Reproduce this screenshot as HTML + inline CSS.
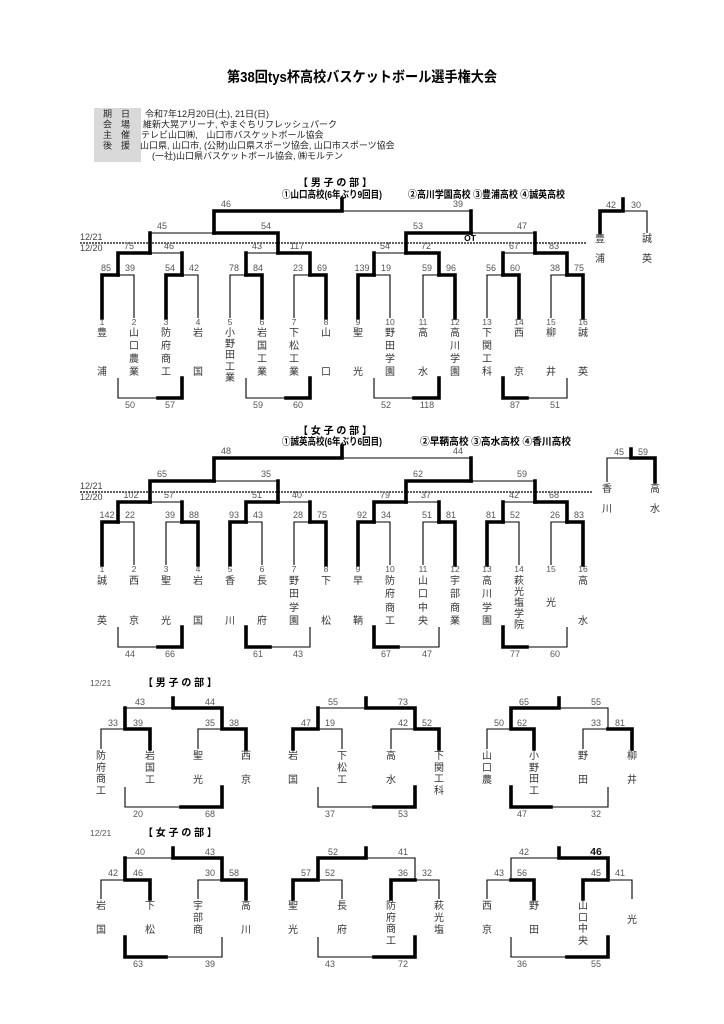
<!DOCTYPE html>
<html><head><meta charset="utf-8"><style>
html,body{margin:0;padding:0;background:#fff;}
svg{display:block;font-family:"Liberation Sans","Noto Sans CJK JP",sans-serif;}
.t{stroke:#000;stroke-width:1.1;fill:none;}
.k{stroke:#000;stroke-width:3.6;fill:none;stroke-linecap:square;}
.s{font-size:9px;fill:#555;text-anchor:middle;}
.n{font-size:10px;fill:#333;text-anchor:middle;}
.m{font-size:8.5px;fill:#555;text-anchor:middle;}
.h{font-size:10px;font-weight:bold;fill:#000;}
.i{font-size:9px;fill:#222;}
</style></head><body>
<svg width="724" height="1024" viewBox="0 0 724 1024" xmlns="http://www.w3.org/2000/svg">
<text x="362" y="82" text-anchor="middle" font-size="14.5" font-weight="bold" textLength="270" lengthAdjust="spacingAndGlyphs">第38回tys杯高校バスケットボール選手権大会</text>
<rect x="94" y="108" width="47" height="54" fill="#d9d9d9"/>
<g class="i">
<text x="103" y="117">期　日</text><text x="145" y="117">令和7年12月20日(土), 21日(日)</text>
<text x="103" y="127.5">会　場</text><text x="143" y="127.5">維新大晃アリーナ, やまぐちリフレッシュパーク</text>
<text x="103" y="138">主　催</text><text x="141" y="138">テレビ山口㈱,　山口市バスケットボール協会</text>
<text x="103" y="148.5">後　援</text><text x="140" y="148.5">山口県, 山口市, (公財)山口県スポーツ協会, 山口市スポーツ協会</text>
<text x="152" y="159">(一社)山口県バスケットボール協会, ㈱モルテン</text>
</g>

<!-- BOYS MAIN -->
<text x="335" y="186" class="h" text-anchor="middle" xml:space="preserve">【 男 子 の 部 】</text>
<text x="282" y="198" class="h" font-size="9" textLength="100" lengthAdjust="spacingAndGlyphs">①山口高校(6年ぶり9回目)</text>
<text x="408" y="198" class="h" font-size="9" textLength="157" lengthAdjust="spacingAndGlyphs">②高川学園高校 ③豊浦高校 ④誠英高校</text>
<text x="80" y="240" font-size="9" fill="#444">12/21</text>
<text x="80" y="251" font-size="9" fill="#444">12/20</text>
<line x1="80" y1="243" x2="586" y2="243" stroke="#000" stroke-width="1.2" stroke-dasharray="2,1"/>
<text x="470" y="241" text-anchor="middle" font-size="8.5" font-weight="bold">OT</text>
<path class="k" d="M102 318V275H118 M166 318V275H182 M262 318V275H246 M326 318V275H310 M358 318V275H374 M455 318V275H439 M519 318V275H503 M583 318V275H567"/>
<path class="t" d="M134 318V275H118 M198 318V275H182 M230 318V275H246 M294 318V275H310 M390 318V275H374 M423 318V275H439 M487 318V275H503 M551 318V275H567"/>
<path class="k" d="M118 275V253H150 M182 275V253 M246 275V253 M310 275V253H278 M374 275V253 M439 275V253H406 M503 275V253 M567 275V253H535"/>
<path class="t" d="M150 253H182 M246 253H278 M374 253H406 M503 253H535"/>
<path class="k" d="M150 253V233 M278 253V233H214 M406 253V233H471 M535 253V233"/>
<path class="t" d="M150 233H214 M471 233H535"/>
<path class="k" d="M214 233V211H342V199 M471 233V211"/>
<path class="t" d="M342 211H471"/>
<g class="s">
<text x="106" y="271">85</text><text x="130" y="271">39</text><text x="170" y="271">54</text><text x="194" y="271">42</text>
<text x="234" y="271">78</text><text x="258" y="271">84</text><text x="298" y="271">23</text><text x="322" y="271">69</text>
<text x="362" y="271">139</text><text x="386" y="271">19</text><text x="427" y="271">59</text><text x="451" y="271">96</text>
<text x="491" y="271">56</text><text x="515" y="271">60</text><text x="555" y="271">38</text><text x="579" y="271">75</text>
<text x="129" y="249">75</text><text x="169" y="249">46</text><text x="257" y="249">43</text><text x="297" y="249">117</text>
<text x="385" y="249">54</text><text x="426" y="249">72</text><text x="514" y="249">67</text><text x="554" y="249">83</text>
<text x="162" y="229">45</text><text x="266" y="229">54</text><text x="418" y="229">53</text><text x="522" y="229">47</text>
<text x="226" y="207">46</text><text x="458" y="207">39</text>
</g>
<g class="m">
<text x="102" y="325">1</text><text x="134" y="325">2</text><text x="166" y="325">3</text><text x="198" y="325">4</text>
<text x="230" y="325">5</text><text x="262" y="325">6</text><text x="294" y="325">7</text><text x="326" y="325">8</text>
<text x="358" y="325">9</text><text x="390" y="325">10</text><text x="423" y="325">11</text><text x="455" y="325">12</text>
<text x="487" y="325">13</text><text x="519" y="325">14</text><text x="551" y="325">15</text><text x="583" y="325">16</text>
</g>
<g class="n">
<text x="102" y="336">豊</text><text x="102" y="375">浦</text>
<text x="134" y="336">山</text><text x="134" y="349">口</text><text x="134" y="362">農</text><text x="134" y="375">業</text>
<text x="166" y="336">防</text><text x="166" y="349">府</text><text x="166" y="362">商</text><text x="166" y="375">工</text>
<text x="198" y="336">岩</text><text x="198" y="375">国</text>
<text x="230" y="336">小</text><text x="230" y="347">野</text><text x="230" y="358">田</text><text x="230" y="370">工</text><text x="230" y="381">業</text>
<text x="262" y="336">岩</text><text x="262" y="349">国</text><text x="262" y="362">工</text><text x="262" y="375">業</text>
<text x="294" y="336">下</text><text x="294" y="349">松</text><text x="294" y="362">工</text><text x="294" y="375">業</text>
<text x="326" y="336">山</text><text x="326" y="375">口</text>
<text x="358" y="336">聖</text><text x="358" y="375">光</text>
<text x="390" y="336">野</text><text x="390" y="349">田</text><text x="390" y="362">学</text><text x="390" y="375">園</text>
<text x="423" y="336">高</text><text x="423" y="375">水</text>
<text x="455" y="336">高</text><text x="455" y="349">川</text><text x="455" y="362">学</text><text x="455" y="375">園</text>
<text x="487" y="336">下</text><text x="487" y="349">関</text><text x="487" y="362">工</text><text x="487" y="375">科</text>
<text x="519" y="336">西</text><text x="519" y="375">京</text>
<text x="551" y="336">柳</text><text x="551" y="375">井</text>
<text x="583" y="336">誠</text><text x="583" y="375">英</text>
</g>
<path class="t" d="M118 378V398H158 M246 378V398H286 M374 378V398H414 M567 378V398H527"/>
<path class="k" d="M182 378V398H158 M310 378V398H286 M439 378V398H414 M503 378V398H527"/>
<g class="s">
<text x="130" y="408">50</text><text x="170" y="408">57</text><text x="258" y="408">59</text><text x="298" y="408">60</text>
<text x="386" y="408">52</text><text x="427" y="408">118</text><text x="515" y="408">87</text><text x="555" y="408">51</text>
</g>
<!-- boys 3rd -->
<path class="k" d="M623 199V211H600V233"/>
<path class="t" d="M623 211H647V233"/>
<text class="s" x="611" y="208">42</text><text class="s" x="636" y="208">30</text>
<g class="n"><text x="600" y="242">豊</text><text x="600" y="262">浦</text><text x="647" y="242">誠</text><text x="647" y="262">英</text></g>

<!-- GIRLS MAIN -->
<text x="335" y="434" class="h" text-anchor="middle" xml:space="preserve">【 女 子 の 部 】</text>
<text x="282" y="445" class="h" font-size="9" textLength="100" lengthAdjust="spacingAndGlyphs">①誠英高校(6年ぶり6回目)</text>
<text x="420" y="445" class="h" font-size="9" textLength="151" lengthAdjust="spacingAndGlyphs">②早鞆高校 ③高水高校 ④香川高校</text>
<text x="80" y="489" font-size="9" fill="#444">12/21</text>
<text x="80" y="500" font-size="9" fill="#444">12/20</text>
<line x1="80" y1="492" x2="592" y2="492" stroke="#000" stroke-width="1.2" stroke-dasharray="2,1"/>
<path class="k" d="M102 565V522H118 M198 565V522H182 M230 565V522H246 M326 565V522H310 M358 565V522H374 M455 565V522H439 M487 565V522H503 M583 565V522H567"/>
<path class="t" d="M134 565V522H118 M166 565V522H182 M262 565V522H246 M294 565V522H310 M390 565V522H374 M423 565V522H439 M519 565V522H503 M551 565V522H567"/>
<path class="k" d="M118 522V502H150 M182 522V502 M246 522V502H278 M310 522V502 M374 522V502H406 M439 522V502 M503 522V502 M567 522V502H535"/>
<path class="t" d="M150 502H182 M278 502H310 M406 502H439 M503 502H535"/>
<path class="k" d="M150 502V481H214 M278 502V481 M406 502V481H471 M535 502V481"/>
<path class="t" d="M214 481H278 M471 481H535"/>
<path class="k" d="M214 481V458H342V446 M471 481V458"/>
<path class="t" d="M342 458H471"/>
<g class="s">
<text x="107" y="518">142</text><text x="130" y="518">22</text><text x="170" y="518">39</text><text x="194" y="518">88</text>
<text x="234" y="518">93</text><text x="258" y="518">43</text><text x="298" y="518">28</text><text x="322" y="518">75</text>
<text x="362" y="518">92</text><text x="386" y="518">34</text><text x="427" y="518">51</text><text x="451" y="518">81</text>
<text x="491" y="518">81</text><text x="515" y="518">52</text><text x="555" y="518">26</text><text x="579" y="518">83</text>
<text x="131" y="498">102</text><text x="169" y="498">57</text><text x="257" y="498">51</text><text x="297" y="498">40</text>
<text x="385" y="498">79</text><text x="426" y="498">37</text><text x="514" y="498">42</text><text x="554" y="498">68</text>
<text x="162" y="477">65</text><text x="266" y="477">35</text><text x="418" y="477">62</text><text x="522" y="477">59</text>
<text x="226" y="454">48</text><text x="458" y="454">44</text>
</g>
<g class="m">
<text x="102" y="572">1</text><text x="134" y="572">2</text><text x="166" y="572">3</text><text x="198" y="572">4</text>
<text x="230" y="572">5</text><text x="262" y="572">6</text><text x="294" y="572">7</text><text x="326" y="572">8</text>
<text x="358" y="572">9</text><text x="390" y="572">10</text><text x="423" y="572">11</text><text x="455" y="572">12</text>
<text x="487" y="572">13</text><text x="519" y="572">14</text><text x="551" y="572">15</text><text x="583" y="572">16</text>
</g>
<g class="n">
<text x="102" y="584">誠</text><text x="102" y="624">英</text>
<text x="134" y="584">西</text><text x="134" y="624">京</text>
<text x="166" y="584">聖</text><text x="166" y="624">光</text>
<text x="198" y="584">岩</text><text x="198" y="624">国</text>
<text x="230" y="584">香</text><text x="230" y="624">川</text>
<text x="262" y="584">長</text><text x="262" y="624">府</text>
<text x="294" y="584">野</text><text x="294" y="597">田</text><text x="294" y="611">学</text><text x="294" y="624">園</text>
<text x="326" y="584">下</text><text x="326" y="624">松</text>
<text x="358" y="584">早</text><text x="358" y="624">鞆</text>
<text x="390" y="584">防</text><text x="390" y="597">府</text><text x="390" y="611">商</text><text x="390" y="624">工</text>
<text x="423" y="584">山</text><text x="423" y="597">口</text><text x="423" y="611">中</text><text x="423" y="624">央</text>
<text x="455" y="584">宇</text><text x="455" y="597">部</text><text x="455" y="611">商</text><text x="455" y="624">業</text>
<text x="487" y="584">高</text><text x="487" y="597">川</text><text x="487" y="611">学</text><text x="487" y="624">園</text>
<text x="519" y="584">萩</text><text x="519" y="595">光</text><text x="519" y="606">塩</text><text x="519" y="617">学</text><text x="519" y="628">院</text>
<text x="551" y="606">光</text>
<text x="583" y="584">高</text><text x="583" y="624">水</text>
</g>
<path class="t" d="M118 627V647H158 M310 627V647H270 M439 627V647H398 M567 627V647H527"/>
<path class="k" d="M182 627V647H158 M246 627V647H270 M374 627V647H398 M503 627V647H527"/>
<g class="s">
<text x="130" y="657">44</text><text x="170" y="657">66</text><text x="258" y="657">61</text><text x="298" y="657">43</text>
<text x="386" y="657">67</text><text x="427" y="657">47</text><text x="515" y="657">77</text><text x="555" y="657">60</text>
</g>
<!-- girls 3rd -->
<path class="k" d="M631 449V458H655V482"/>
<path class="t" d="M631 458H607V482"/>
<text class="s" x="619" y="455">45</text><text class="s" x="643" y="455">59</text>
<g class="n"><text x="607" y="492">香</text><text x="607" y="512">川</text><text x="655" y="492">高</text><text x="655" y="512">水</text></g>

<!-- BOYS MINI -->
<text x="90" y="686" font-size="8.5" fill="#555">12/21</text>
<text x="143" y="686" class="h" xml:space="preserve">【 男 子 の 部 】</text>
<path class="t" d="M101 749V729H125 M198 749V729H222 M125 708H173"/>
<path class="k" d="M150 749V729H125V708 M246 749V729H222V708H173V698"/>
<path class="t" d="M342 749V729H318 M391 749V729H415 M318 708H366"/>
<path class="k" d="M293 749V729H318V708 M439 749V729H415V708H366V698"/>
<path class="t" d="M487 749V729H511 M583 749V729H608V708H559"/>
<path class="k" d="M534 749V729H511V708H559V698 M632 749V729H608"/>
<g class="s">
<text x="113" y="726">33</text><text x="138" y="726">39</text><text x="210" y="726">35</text><text x="234" y="726">38</text>
<text x="140" y="705">43</text><text x="210" y="705">44</text>
<text x="306" y="726">47</text><text x="330" y="726">19</text><text x="403" y="726">42</text><text x="427" y="726">52</text>
<text x="333" y="705">55</text><text x="403" y="705">73</text>
<text x="499" y="726">50</text><text x="522" y="726">62</text><text x="596" y="726">33</text><text x="620" y="726">81</text>
<text x="524" y="705">65</text><text x="596" y="705">55</text>
</g>
<path class="t" d="M125 787V807H181 M318 787V807H374 M608 787V807H551"/>
<path class="k" d="M222 787V807H181 M415 787V807H374 M511 787V807H551"/>
<g class="s">
<text x="138" y="817">20</text><text x="210" y="817">68</text><text x="330" y="817">37</text><text x="403" y="817">53</text>
<text x="522" y="817">47</text><text x="596" y="817">32</text>
</g>
<g class="n">
<text x="101" y="759">防</text><text x="101" y="771">府</text><text x="101" y="782">商</text><text x="101" y="794">工</text>
<text x="150" y="759">岩</text><text x="150" y="771">国</text><text x="150" y="783">工</text>
<text x="198" y="759">聖</text><text x="198" y="783">光</text>
<text x="246" y="759">西</text><text x="246" y="783">京</text>
<text x="293" y="759">岩</text><text x="293" y="783">国</text>
<text x="342" y="759">下</text><text x="342" y="771">松</text><text x="342" y="783">工</text>
<text x="391" y="759">高</text><text x="391" y="783">水</text>
<text x="439" y="759">下</text><text x="439" y="771">関</text><text x="439" y="782">工</text><text x="439" y="794">科</text>
<text x="487" y="759">山</text><text x="487" y="771">口</text><text x="487" y="783">農</text>
<text x="534" y="759">小</text><text x="534" y="771">野</text><text x="534" y="782">田</text><text x="534" y="794">工</text>
<text x="583" y="759">野</text><text x="583" y="783">田</text>
<text x="632" y="759">柳</text><text x="632" y="783">井</text>
</g>

<!-- GIRLS MINI -->
<text x="90" y="836" font-size="8.5" fill="#555">12/21</text>
<text x="143" y="836" class="h" xml:space="preserve">【 女 子 の 部 】</text>
<path class="t" d="M101 899V880H125 M198 899V880H222 M125 858H173"/>
<path class="k" d="M150 899V880H125V858 M246 899V880H222V858H173V848"/>
<path class="t" d="M342 899V880H318 M439 899V880H415V858H366"/>
<path class="k" d="M293 899V880H318V858H366V848 M391 899V880H415"/>
<path class="t" d="M487 899V880H511V858H559 M632 899V880H608"/>
<path class="k" d="M534 899V880H511 M583 899V880H608V858H559V848"/>
<g class="s">
<text x="113" y="876">42</text><text x="138" y="876">46</text><text x="210" y="876">30</text><text x="234" y="876">58</text>
<text x="140" y="855">40</text><text x="210" y="855">43</text>
<text x="306" y="876">57</text><text x="330" y="876">52</text><text x="403" y="876">36</text><text x="427" y="876">32</text>
<text x="333" y="855">52</text><text x="403" y="855">41</text>
<text x="499" y="876">43</text><text x="522" y="876">56</text><text x="596" y="876">45</text><text x="620" y="876">41</text>
<text x="524" y="855">42</text><text x="596" y="855" font-size="10.5" font-weight="bold" fill="#111">46</text>
</g>
<path class="t" d="M222 937V957H166 M318 937V957H374 M511 937V957H567"/>
<path class="k" d="M125 937V957H166 M415 937V957H374 M608 937V957H567"/>
<g class="s">
<text x="138" y="967">63</text><text x="210" y="967">39</text><text x="330" y="967">43</text><text x="403" y="967">72</text>
<text x="522" y="967">36</text><text x="596" y="967">55</text>
</g>
<g class="n">
<text x="101" y="909">岩</text><text x="101" y="933">国</text>
<text x="150" y="909">下</text><text x="150" y="933">松</text>
<text x="198" y="909">宇</text><text x="198" y="921">部</text><text x="198" y="933">商</text>
<text x="246" y="909">高</text><text x="246" y="933">川</text>
<text x="293" y="909">聖</text><text x="293" y="933">光</text>
<text x="342" y="909">長</text><text x="342" y="933">府</text>
<text x="391" y="909">防</text><text x="391" y="921">府</text><text x="391" y="932">商</text><text x="391" y="944">工</text>
<text x="439" y="909">萩</text><text x="439" y="921">光</text><text x="439" y="933">塩</text>
<text x="487" y="909">西</text><text x="487" y="933">京</text>
<text x="534" y="909">野</text><text x="534" y="933">田</text>
<text x="583" y="909">山</text><text x="583" y="921">口</text><text x="583" y="932">中</text><text x="583" y="944">央</text>
<text x="632" y="923">光</text>
</g>
</svg>
</body></html>
